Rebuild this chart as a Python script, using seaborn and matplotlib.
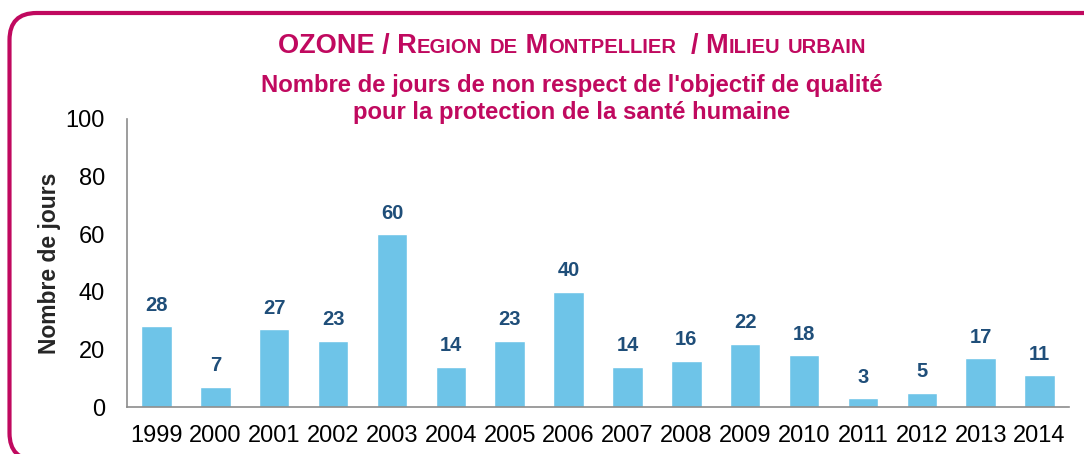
import matplotlib
matplotlib.use("Agg")
import matplotlib.pyplot as plt
from matplotlib.patches import FancyBboxPatch
from matplotlib.transforms import IdentityTransform
import seaborn as sns
import pandas as pd

# Data
years = ["1999", "2000", "2001", "2002", "2003", "2004", "2005", "2006",
         "2007", "2008", "2009", "2010", "2011", "2012", "2013", "2014"]
days = [28, 7, 27, 23, 60, 14, 23, 40, 14, 16, 22, 18, 3, 5, 17, 11]
y_ticks = [0, 20, 40, 60, 80, 100]

title_text = "OZONE / Region de Montpellier  / Milieu urbain"
subtitle = "Nombre de jours de non respect de l'objectif de qualité\npour la protection de la santé humaine"
ylabel = "Nombre de jours"

MAGENTA = "#C0095F"
BAR = "#6EC4E8"
LABEL = "#1F4E79"

sns.set_style("white")
plt.rcParams['font.family'] = ['Liberation Sans', 'DejaVu Sans']

df = pd.DataFrame({"year": years, "days": days})

W, H = 1084, 454
fig = plt.figure(figsize=(W / 100, H / 100), dpi=100)
ax = fig.add_axes([127 / W, 47 / H, 942 / W, 288 / H])

sns.barplot(data=df, x="year", y="days", color=BAR, width=0.52, saturation=1, ax=ax)

for i, v in enumerate(days):
    ax.text(i, v + 4, str(v), ha="center", va="bottom", fontsize=14.5,
            fontweight="bold", color=LABEL)

ax.set_xlim(-0.5, len(years) - 0.5)
ax.set_ylim(0, 100)
ax.set_yticks(y_ticks)
ax.tick_params(axis="both", length=0, labelsize=17, colors="black")
ax.tick_params(axis="x", pad=13)
ax.tick_params(axis="y", pad=16)
ax.set_xlabel("")
ax.set_ylabel(ylabel, fontsize=16.5, fontweight="bold", labelpad=3)
for s in ["top", "right"]:
    ax.spines[s].set_visible(False)
for s in ["left", "bottom"]:
    ax.spines[s].set_color("#8C8C8C")
    ax.spines[s].set_linewidth(1.2)

# rounded frame (pixel coordinates)
frame = FancyBboxPatch((9.5, H - 460), 1110, 447,
                       boxstyle="round,pad=0,rounding_size=27",
                       transform=IdentityTransform(), fill=False,
                       edgecolor=MAGENTA, linewidth=3.0, clip_on=False)
fig.patches.append(frame)

# title in small caps
runs = []
for ch in title_text:
    if ch.islower():
        size, c = 14.5, ch.upper()
    else:
        size, c = 19.5, ch
    if runs and runs[-1][1] == size:
        runs[-1][0] += c
    else:
        runs.append([c, size])

renderer = fig.canvas.get_renderer()
pieces = []
total = 0
for txt, size in runs:
    t = fig.text(0, 0, txt, fontsize=size, fontweight="bold", color=MAGENTA,
                 va="baseline", ha="left")
    w = t.get_window_extent(renderer).width
    pieces.append((t, w))
    total += w
x0 = 572 - total / 2
for t, w in pieces:
    t.set_position((x0 / W, 1 - 53 / H))
    x0 += w

fig.text(572 / W, 1 - 99 / H, subtitle, ha="center", va="center",
         fontsize=17.2, fontweight="bold", color=MAGENTA, linespacing=1.2)

fig.savefig("out.png", dpi=100)
